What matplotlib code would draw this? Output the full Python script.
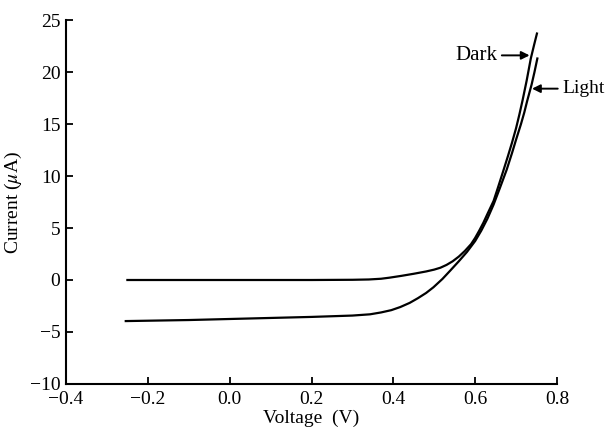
import matplotlib
matplotlib.use('Agg')
import matplotlib.pyplot as plt

# ── Data ─────────────────────────────────────────────────────
dark_v = [-0.25, -0.10, 0.00, 0.10, 0.20, 0.30, 0.34, 0.37, 0.39, 0.42,
          0.45, 0.48, 0.50, 0.515, 0.53, 0.545, 0.56, 0.575, 0.59, 0.60,
          0.61, 0.62, 0.63, 0.645, 0.655, 0.668, 0.68, 0.69, 0.70, 0.708,
          0.716, 0.726, 0.736, 0.744, 0.751]
dark_i = [0.0, 0.0, 0.0, 0.0, 0.0, 0.02, 0.05, 0.12, 0.22, 0.4,
          0.6, 0.82, 1.0, 1.18, 1.45, 1.8, 2.25, 2.8, 3.45, 4.05,
          4.75, 5.5, 6.35, 7.6, 8.8, 10.4, 11.9, 13.2, 14.6, 15.9,
          17.3, 19.2, 21.3, 22.6, 23.7]

light_v = [-0.254, -0.10, 0.00, 0.10, 0.20, 0.30, 0.343, 0.37, 0.395, 0.417,
           0.44, 0.46, 0.48, 0.498, 0.52, 0.539, 0.56, 0.58, 0.60, 0.615,
           0.63, 0.645, 0.66, 0.677, 0.69, 0.70, 0.712, 0.72, 0.727, 0.738,
           0.745, 0.752]
light_i = [-3.95, -3.85, -3.75, -3.65, -3.55, -3.42, -3.3, -3.12, -2.9, -2.6,
           -2.2, -1.75, -1.25, -0.7, 0.1, 0.9, 1.8, 2.7, 3.75, 4.75,
           5.9, 7.25, 8.8, 10.6, 12.2, 13.5, 15.0, 16.1, 17.2, 18.8,
           20.0, 21.3]

x_ticks = [-0.4, -0.2, 0.0, 0.2, 0.4, 0.6, 0.8]
x_labels = ['\u22120.4', '\u22120.2', '0.0', '0.2', '0.4', '0.6', '0.8']
y_ticks = [-10, -5, 0, 5, 10, 15, 20, 25]
y_labels = ['\u221210', '\u22125', '0', '5', '10', '15', '20', '25']

# ── Style ────────────────────────────────────────────────────
plt.rcParams['font.family'] = ['Liberation Serif', 'DejaVu Serif']
plt.rcParams['mathtext.fontset'] = 'stix'
plt.rcParams['font.size'] = 14

fig = plt.figure(figsize=(6.08, 4.40), dpi=100)
ax = fig.add_axes([0.1086, 0.1273, 0.8075, 0.8272])

ax.plot(dark_v, dark_i, color='black', lw=1.6, solid_joinstyle='round')
ax.plot(light_v, light_i, color='black', lw=1.6, solid_joinstyle='round')

ax.set_xlim(-0.4, 0.8)
ax.set_ylim(-10, 25)
ax.set_xticks(x_ticks)
ax.set_xticklabels(x_labels)
ax.set_yticks(y_ticks)
ax.set_yticklabels(y_labels)

for side in ['top', 'right']:
    ax.spines[side].set_visible(False)
for side in ['left', 'bottom']:
    ax.spines[side].set_linewidth(1.5)
ax.tick_params(direction='in', length=5, width=1.3, labelsize=14)
ax.tick_params(axis='y', pad=4)
ax.tick_params(axis='x', pad=5)

ax.set_xlabel('Voltage  (V)', fontsize=14, labelpad=1)
ax.set_ylabel('Current ($\\mu$A)', fontsize=14, labelpad=4)

# ── Curve labels with arrows ─────────────────────────────────
arrow = dict(arrowstyle='-|>', color='black', lw=1.4,
             mutation_scale=12, shrinkA=1, shrinkB=0)
ax.annotate('Dark', xy=(0.733, 21.6), xytext=(0.655, 21.6),
            ha='right', va='center', fontsize=15,
            arrowprops=arrow, annotation_clip=False)
ax.annotate('Light', xy=(0.739, 18.4), xytext=(0.812, 18.4),
            ha='left', va='center', fontsize=14,
            arrowprops=arrow, annotation_clip=False)

fig.savefig('out.png', dpi=100)
